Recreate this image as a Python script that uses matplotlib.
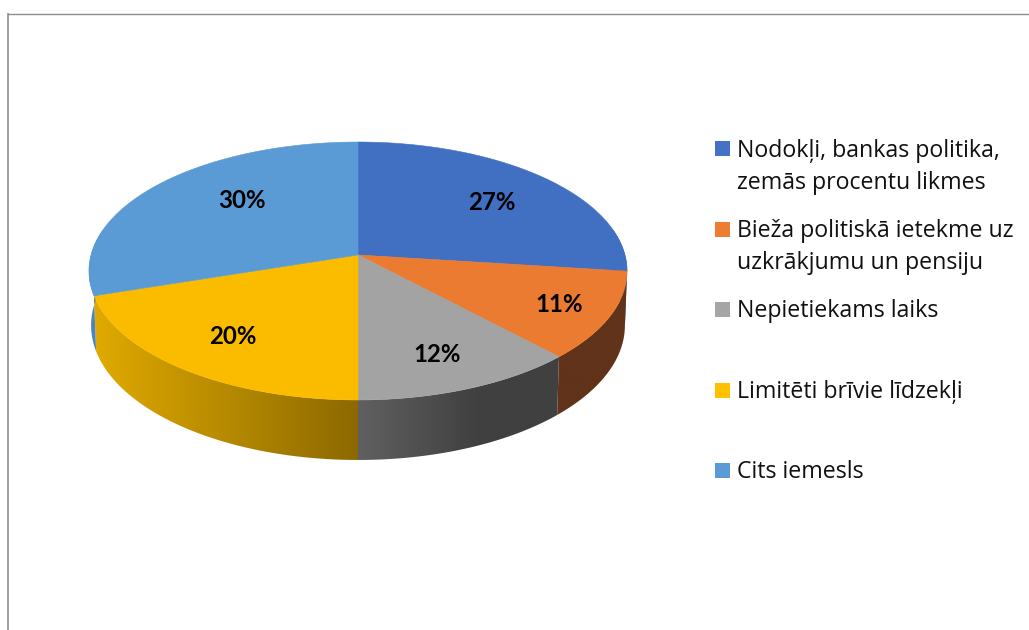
import numpy as np
import matplotlib
matplotlib.use("Agg")
import matplotlib.pyplot as plt
from matplotlib.colors import to_rgb
from matplotlib.patches import Polygon, Rectangle

labels = [
    "Nodokļi, bankas politika,\nzemās procentu likmes",
    "Bieža politiskā ietekme uz\nuzkrākjumu un pensiju",
    "Nepietiekams laiks",
    "Limitēti brīvie līdzekļi",
    "Cits iemesls",
]
values = [27, 11, 12, 20, 30]
value_labels = ["27%", "11%", "12%", "20%", "30%"]

colors = ["#4472C4", "#ED7D31", "#A5A5A5", "#FFC000", "#5B9BD5"]
pie_top = ["#4170C2", "#EB7B30", "#A3A3A3", "#FBBC00", "#5B9BD5"]

# wall colour at the left and right end of each slice's wall
wall_left = ["#2F5597", "#61331A", "#606060", "#E0AA00", "#4C85BE"]
wall_right = ["#2F5597", "#61331A", "#404040", "#8C6900", "#4C85BE"]
# share of the wall width the gradient takes
wall_ramp = [1, 1, 0.6, 1, 1]

# pixel positions of the labels
label_xy = [(492, 203), (559, 305), (437, 354), (233, 337), (242, 201)]
legend_y = [148.5, 229.5, 309.5, 390.5, 470.5]
text_base = [(157, 189), (237, 269), (317,), (398,), (478,)]

# perspective of the disc
CX, CY = 358, 255
RX, RY, PERSP = 267, 127, 0.124
DEPTH, SHRINK = 54.2, 0.008


def project(ang, low=False):
    # ang is clockwise from the top, in radians
    x = np.sin(ang)
    y = np.cos(ang)
    w = 1 + PERSP * y + (SHRINK if low else 0)
    d = DEPTH if low else 0
    return CX + RX * x / w, CY + (d - RY * y) / w


fig = plt.figure(figsize=(10.29, 6.3), dpi=100)
ax = fig.add_axes([0, 0, 1, 1])
ax.set_xlim(0, 1029)
ax.set_ylim(630, 0)
ax.axis("off")

# chart frame, only top and left show
ax.plot([8, 8], [14, 630], color="#9A9A9A", lw=1.3)
ax.plot([8, 1029], [14, 14], color="#8C8C8C", lw=1.0)

edges = np.cumsum([0] + values) / sum(values) * 2 * np.pi

# walls first, each one is a gradient image clipped to the wall outline
for i in range(len(values)):
    a0 = max(edges[i], np.radians(78))
    a1 = min(edges[i + 1], np.radians(282))
    if a1 <= a0:
        continue
    steps = np.linspace(a0, a1, 80)
    top = [project(a) for a in steps]
    low = [project(a, low=True) for a in steps]
    outline = Polygon(top + low[::-1], closed=True, transform=ax.transData,
                      facecolor="none", edgecolor="none")
    ax.add_patch(outline)
    xs = [p[0] for p in top + low]
    ys = [p[1] for p in top + low]
    xl, xr = min(xs), max(xs)
    t = np.clip(np.linspace(0, 1, 256) / wall_ramp[i], 0, 1)[:, None]
    cl = np.array(to_rgb(wall_left[i]))
    cr = np.array(to_rgb(wall_right[i]))
    grad = (cl + (cr - cl) * t)[None, :, :]
    im = ax.imshow(grad, extent=(xl, xr, max(ys), min(ys)), aspect="auto",
                   interpolation="bilinear", zorder=1)
    im.set_clip_path(outline)

ax.set_xlim(0, 1029)
ax.set_ylim(630, 0)

# top of the pie
for i in range(len(values)):
    angs = np.linspace(edges[i], edges[i + 1], 120)
    pts = [(CX, CY)] + [project(a) for a in angs]
    ax.add_patch(Polygon(pts, closed=True, facecolor=pie_top[i],
                         edgecolor=pie_top[i], lw=0.4, zorder=2))

for (x, y), txt in zip(label_xy, value_labels):
    ax.text(x, y, txt, fontsize=17.3, fontweight="bold", family="Lato",
            ha="center", va="center", color="black", zorder=3)

# legend by hand, the spacing is uneven
for i, lab in enumerate(labels):
    ax.add_patch(Rectangle((715, legend_y[i] - 7.5), 15, 15,
                           facecolor=colors[i], edgecolor="none"))
    for line, base in zip(lab.split("\n"), text_base[i]):
        ax.text(737, base, line, fontsize=16.7, family="Open Sans",
                ha="left", va="baseline", color="#111111")

fig.savefig("out.png", dpi=100)
